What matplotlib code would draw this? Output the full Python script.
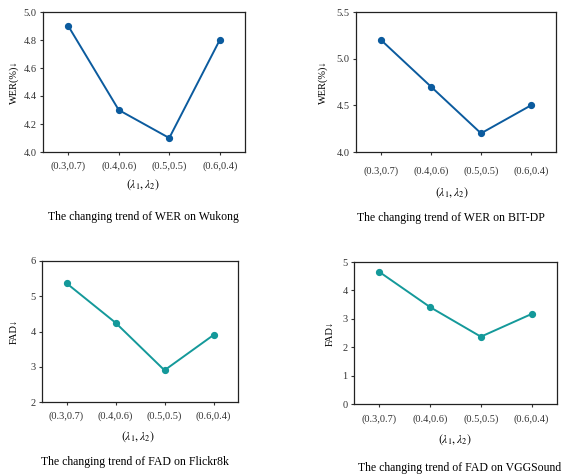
import matplotlib.pyplot as plt

plt.rcParams['font.family'] = ['Liberation Serif', 'DejaVu Serif']
plt.rcParams['mathtext.fontset'] = 'stix'

settings = ['(0.3,0.7)', '(0.4,0.6)', '(0.5,0.5)', '(0.6,0.4)']

wer_wukong = [4.9, 4.3, 4.1, 4.8]
wer_bitdp = [5.2, 4.7, 4.2, 4.5]
fad_flickr = [5.37, 4.25, 2.9, 3.9]
fad_vgg = [4.65, 3.41, 2.37, 3.17]

blue = '#0b5b9e'
teal = '#14999a'

W, H = 573, 476

# pixel boxes (left, top, right, bottom), tick pad, xlabel pos, caption pos, ylabel x
panels = [
    dict(y=wer_wukong, box=(43, 12, 245, 152), ylim=(4.0, 5.0), yt=[4.0, 4.2, 4.4, 4.6, 4.8, 5.0], fmt='%.1f',
         ylabel='WER(%)↓', color=blue, pad=4, xl=(143, 185), cap=(143, 217),
         title='The changing trend of WER on Wukong', ylx=19),
    dict(y=wer_bitdp, box=(356, 12, 556, 152), ylim=(4.0, 5.5), yt=[4.0, 4.5, 5.0, 5.5], fmt='%.1f',
         ylabel='WER(%)↓', color=blue, pad=8, xl=(452, 193), cap=(451, 218),
         title='The changing trend of WER on BIT-DP', ylx=328),
    dict(y=fad_flickr, box=(42, 261, 238, 402), ylim=(2, 6), yt=[2, 3, 4, 5, 6], fmt='%d',
         ylabel='FAD↓', color=teal, pad=4.5, xl=(138, 437), cap=(135, 462),
         title='The changing trend of FAD on Flickr8k', ylx=19),
    dict(y=fad_vgg, box=(354, 262, 557, 404), ylim=(0, 5), yt=[0, 1, 2, 3, 4, 5], fmt='%d',
         ylabel='FAD↓', color=teal, pad=5, xl=(455, 440), cap=(460, 468),
         title='The changing trend of FAD on VGGSound', ylx=335),
]

fig = plt.figure(figsize=(W / 100, H / 100), dpi=100)

for p in panels:
    l, t, r, b = p['box']
    ax = fig.add_axes([l / W, 1 - b / H, (r - l) / W, (b - t) / H])
    xs = range(len(settings))
    ax.plot(xs, p['y'], color=p['color'], lw=1.4, marker='o', ms=4.2)
    ax.set_xlim(-0.5, 3.5)
    ax.set_ylim(*p['ylim'])
    ax.set_yticks(p['yt'])
    ax.set_yticklabels([p['fmt'] % v for v in p['yt']])
    ax.set_xticks(list(xs))
    ax.set_xticklabels(settings)
    ax.tick_params(direction='out', length=2.5, width=0.8, labelsize=7.5, colors='#333333')
    ax.tick_params(axis='x', pad=p['pad'])
    ax.tick_params(axis='y', pad=2)
    for s in ax.spines.values():
        s.set_linewidth(0.9)
        s.set_color('#222222')
    ax.set_ylabel(p['ylabel'], fontsize=7.5)
    ax.yaxis.set_label_coords(p['ylx'] / W, 1 - ((t + b) / 2) / H, transform=fig.transFigure)
    fig.text(p['xl'][0] / W, 1 - p['xl'][1] / H, r'$(\lambda_1,\lambda_2)$', fontsize=8.5,
             ha='center', va='center')
    fig.text(p['cap'][0] / W, 1 - p['cap'][1] / H, p['title'], fontsize=8.5,
             ha='center', va='center')

fig.savefig('out.png', dpi=100)
